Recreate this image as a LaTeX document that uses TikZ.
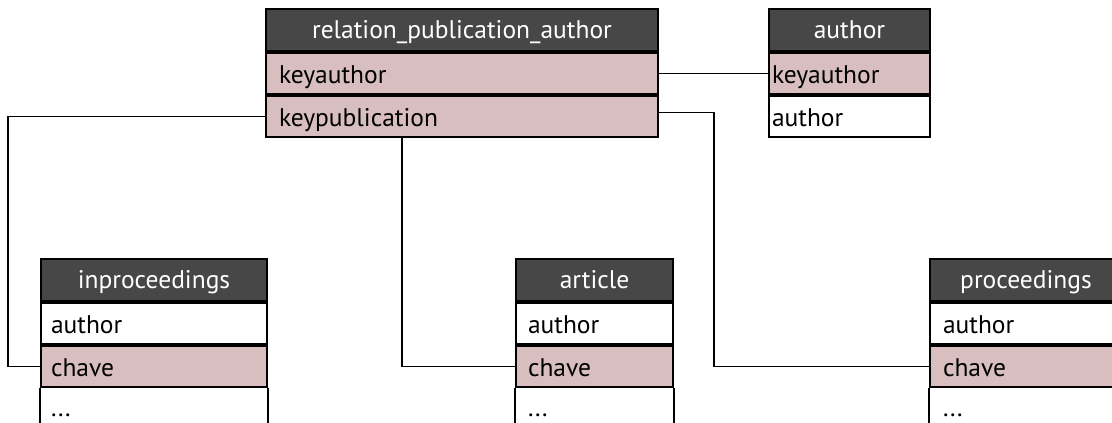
\documentclass[tikz,border=0pt]{standalone}
\usepackage{fontspec}
\setmainfont{PT Sans}
\definecolor{hdrgray}{RGB}{71,71,71}
\definecolor{keypink}{RGB}{216,190,190}
\tikzset{
  tbl/.style={draw=black, line width=2pt, anchor=north west, inner ysep=0pt, font=\fontsize{25.5}{28}\selectfont},
  hdr/.style={tbl, fill=hdrgray, text=white, align=center, text height=29pt, text depth=13pt},
  fld/.style={tbl, fill=white, align=left, text height=30pt, text depth=11pt},
  keyfld/.style={fld, fill=keypink},
  morefld/.style={tbl, draw=none, align=left, text height=27pt, text depth=2pt},
  side/.style={draw=black, line width=2pt},
  conn/.style={draw=black, line width=1.8pt}
}
\begin{document}
\begin{tikzpicture}[x=1pt,y=-1pt]
\useasboundingbox (0,0) rectangle (1112,423);
\clip (0,0) rectangle (1112,423);
% relation_publication_author
\node[hdr, inner xsep=13pt, text width=366pt] (rpa) at (265,8) {relation\_publication\_author};
\node[keyfld, inner xsep=13pt, text width=366pt] (rpa1) at (rpa.south west) {keyauthor};
\node[keyfld, inner xsep=13pt, text width=366pt] (rpa2) at (rpa1.south west) {keypublication};
% author
\node[hdr, inner xsep=3pt, text width=155pt] (au) at (768,8) {author};
\node[keyfld, inner xsep=3pt, text width=155pt] (au1) at (au.south west) {keyauthor};
\node[fld, inner xsep=3pt, text width=155pt] (au2) at (au1.south west) {author};
% inproceedings
\node[hdr, inner xsep=10pt, text width=206pt] (inp) at (40,258) {inproceedings};
\node[fld, inner xsep=10pt, text width=206pt] (inp1) at (inp.south west) {author};
\node[keyfld, inner xsep=10pt, text width=206pt] (inp2) at (inp1.south west) {chave};
\node[morefld, inner xsep=10pt, text width=206pt] (inp3) at (inp2.south west) {...};
\draw[side] (inp3.north west) -- ++(0,-60pt) (inp3.north east) -- ++(0,-60pt);
% article
\node[hdr, inner xsep=12pt, text width=133pt] (ar) at (515,258) {article};
\node[fld, inner xsep=12pt, text width=133pt] (ar1) at (ar.south west) {author};
\node[keyfld, inner xsep=12pt, text width=133pt] (ar2) at (ar1.south west) {chave};
\node[morefld, inner xsep=12pt, text width=133pt] (ar3) at (ar2.south west) {...};
\draw[side] (ar3.north west) -- ++(0,-60pt) (ar3.north east) -- ++(0,-60pt);
% proceedings
\node[hdr, inner xsep=13pt, text width=166pt] (pr) at (929,258) {proceedings};
\node[fld, inner xsep=13pt, text width=166pt] (pr1) at (pr.south west) {author};
\node[keyfld, inner xsep=13pt, text width=166pt] (pr2) at (pr1.south west) {chave};
\node[morefld, inner xsep=13pt, text width=166pt] (pr3) at (pr2.south west) {...};
\draw[side] (pr3.north west) -- ++(0,-60pt);
% connectors
\draw[conn] (rpa1.east) -- (au1.west);
\draw[conn] ([yshift=4pt]rpa2.east) -- ++(55pt,0) |- (pr2.west);
\draw[conn] (rpa2.west) -- ++(-257pt,0) |- (inp2.west);
\draw[conn] ([xshift=137pt]rpa2.south west) |- (ar2.west);
\end{tikzpicture}
\end{document}
